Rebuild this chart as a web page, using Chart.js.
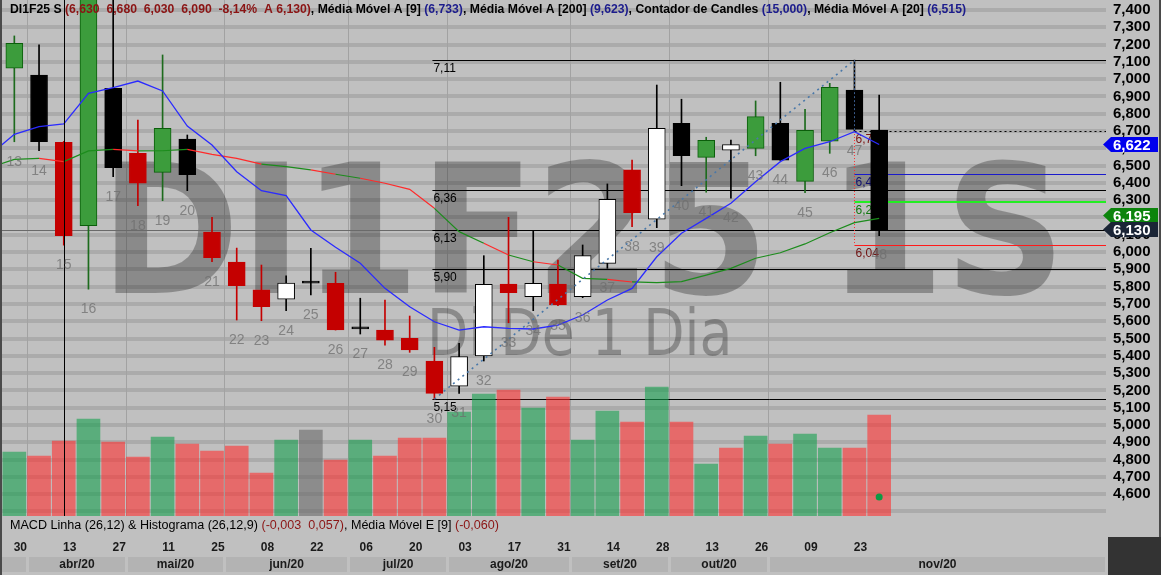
<!DOCTYPE html>
<html lang="pt-BR">
<head>
<meta charset="utf-8">
<title>DI1F25 S</title>
<script src="https://cdn.jsdelivr.net/npm/chart.js@4.4.1/dist/chart.umd.min.js"></script>
<style>
  html, body { margin: 0; padding: 0; background: #c0c0c0; overflow: hidden; }
  #grafico { display: block; }
</style>
</head>
<body>
<canvas id="grafico" width="1161" height="575"></canvas>
<script>
'use strict';

// contador de candles (semanal)
var contador = [13,14,15,16,17,18,19,20,21,22,23,24,25,26,27,28,29,30,
                31,32,33,34,35,36,37,38,39,40,41,42,43,44,45,46,47,48];
var datas = ['2020-03-30','2020-04-06','2020-04-13','2020-04-20','2020-04-27','2020-05-04',
             '2020-05-11','2020-05-18','2020-05-25','2020-06-01','2020-06-08','2020-06-15',
             '2020-06-22','2020-06-29','2020-07-06','2020-07-13','2020-07-20','2020-07-27',
             '2020-08-03','2020-08-10','2020-08-17','2020-08-24','2020-08-31','2020-09-08',
             '2020-09-14','2020-09-21','2020-09-28','2020-10-05','2020-10-13','2020-10-19',
             '2020-10-26','2020-11-03','2020-11-09','2020-11-16','2020-11-23','2020-11-30'];
var abertura   = [7.063,7.024,6.635,6.152,6.947,6.571,6.461,6.654,6.116,5.942,5.781,5.727,
                  5.832,5.819,5.566,5.549,5.501,5.370,5.225,5.399,5.815,5.742,5.815,5.742,
                  5.935,6.475,6.190,6.745,6.548,6.589,6.600,6.745,6.409,6.641,6.937,6.706];
var maxima     = [7.250,7.198,6.640,7.600,7.550,6.764,7.140,6.677,6.201,6.023,5.925,5.862,
                  6.022,5.883,5.733,5.723,5.630,5.449,5.472,5.979,6.201,6.122,5.954,6.041,
                  6.394,6.532,6.966,6.884,6.664,6.648,6.874,6.982,6.826,6.976,7.110,6.908];
var minima     = [6.638,6.586,6.040,5.785,6.436,6.268,6.297,6.355,5.944,5.607,5.603,5.661,
                  5.752,5.549,5.526,5.462,5.420,5.150,5.183,5.370,5.591,5.661,5.690,5.736,
                  5.906,6.147,6.141,6.384,6.346,6.311,6.557,6.530,6.343,6.571,6.700,6.095];
var fechamento = [7.207,6.638,6.095,7.550,6.488,6.398,6.716,6.447,5.967,5.805,5.684,5.820,
                  5.820,5.549,5.556,5.491,5.434,5.183,5.395,5.814,5.765,5.819,5.694,5.979,
                  6.305,6.228,6.716,6.557,6.646,6.621,6.783,6.532,6.704,6.953,6.710,6.130];

// médias móveis, a partir do candle 12
var mmContador = [12,13,14,15,16,17,18,19,20,21,22,23,24,25,26,27,28,29,30,
                  31,32,33,34,35,36,37,38,39,40,41,42,43,44,45,46,47,48];
var mm9  = [6.561,6.681,6.725,6.741,6.918,6.951,6.989,6.932,6.729,6.619,6.465,6.355,6.326,
            6.128,6.028,5.935,5.790,5.684,5.597,5.549,5.568,5.559,5.555,5.578,5.636,5.723,
            5.790,5.973,6.109,6.195,6.282,6.407,6.523,6.600,6.638,6.696,6.622];
var mm20 = [6.488,6.536,6.542,6.523,6.585,6.594,6.585,6.586,6.594,6.565,6.542,6.509,6.494,
            6.475,6.450,6.427,6.398,6.363,6.253,6.118,6.051,5.983,5.944,5.925,5.848,5.842,
            5.827,5.823,5.829,5.867,5.906,5.964,5.996,6.047,6.112,6.170,6.195];

// histograma (altura das barras no painel inferior)
var histograma = [64,60,75,97,74,59,79,72,65,70,43,76,86,56,76,60,78,78,
                  104,122,126,108,119,76,105,94,129,94,52,68,80,72,82,68,68,101];
var sinalMacd = [{x: 48, y: 19}];

// eixos
var ticksPreco = [4.5,4.6,4.7,4.8,4.9,5.0,5.1,5.2,5.3,5.4,5.5,5.6,5.7,5.8,5.9,
                  6.0,6.1,6.2,6.3,6.4,6.5,6.6,6.7,6.8,6.9,7.0,7.1,7.2,7.3,7.4];
var rotulosData = [13,15,17,19,21,23,25,27,29,31,33,35,37,39,41,43,45,47];
var meses = ['jan','fev','mar','abr','mai','jun','jul','ago','set','out','nov','dez'];

// desenhos
var niveis = [7.11, 6.36, 6.13, 5.90, 5.15];
var nivelInicio = 29.92;
var fiboNiveis = [6.70, 6.45, 6.29, 6.04];
var fiboCandle = 47;
var tendencia = [{x: 30, y: 5.15}, {x: 47, y: 7.11}];
var cursorCandle = 15;

// ---- estilos ----
var tipoCandle = 'gkrgkrgkrrrwkrkrrrwwrwrwwrwkgwgkggkk';
var corCorpo = {g: '#3c9c3c', k: '#000000', r: '#c40000', w: '#ffffff'};
var corBorda = {g: '#0b5e0b', k: '#000000', r: '#c40000', w: '#000000'};
var corPavio = {g: '#1d6b1d', k: '#000000', r: '#c40000', w: '#000000'};

var corpos = contador.map(function (n, i) { return {x: n, y: [abertura[i], fechamento[i]]}; });
var pavios = contador.map(function (n, i) { return {x: n, y: [minima[i], maxima[i]]}; });
var histDados = contador.map(function (n, i) { return {x: n, y: histograma[i]}; });
var mm9Dados = mmContador.map(function (n, i) { return {x: n, y: mm9[i]}; });
var mm20Dados = mmContador.map(function (n, i) { return {x: n, y: mm20[i]}; });

var histCores = contador.map(function (n, i) {
  var ant = i > 0 ? fechamento[i - 1] : abertura[i];
  var d = fechamento[i] - ant;
  if (Math.abs(d) < 0.005) return 'rgba(105,105,105,0.6)';
  return d > 0 ? 'rgba(22,160,79,0.6)' : 'rgba(255,49,49,0.6)';
});

function fmt(v, casas) { return v.toFixed(casas).replace('.', ','); }

function textoPartes(ctx, partes, x, y, largura, fonte) {
  ctx.save();
  ctx.font = fonte;
  var total = 0;
  partes.forEach(function (p) { total += ctx.measureText(p[0]).width; });
  ctx.translate(x, y);
  ctx.scale(largura / total, 1);
  ctx.textBaseline = 'middle';
  ctx.textAlign = 'left';
  var cx = 0;
  partes.forEach(function (p) {
    ctx.fillStyle = p[1];
    ctx.fillText(p[0], cx, 0);
    cx += ctx.measureText(p[0]).width;
  });
  ctx.restore();
}

function marcaDagua(ctx, txt, fonte, x0, x1, base) {
  ctx.save();
  ctx.font = fonte;
  ctx.textBaseline = 'alphabetic';
  ctx.textAlign = 'left';
  var m = ctx.measureText(txt);
  var tinta = m.actualBoundingBoxLeft + m.actualBoundingBoxRight;
  ctx.translate(x0, base);
  ctx.scale((x1 - x0) / tinta, 1);
  ctx.fillStyle = 'rgba(0,0,0,0.28)';
  ctx.fillText(txt, m.actualBoundingBoxLeft, 0);
  ctx.restore();
}

function linha(ctx, x0, y0, x1, y1, cor, larg, traco) {
  ctx.save();
  ctx.beginPath();
  ctx.strokeStyle = cor;
  ctx.lineWidth = larg;
  ctx.setLineDash(traco || []);
  ctx.moveTo(x0, y0);
  ctx.lineTo(x1, y1);
  ctx.stroke();
  ctx.restore();
}

function etiqueta(ctx, yc, txt, fundo) {
  ctx.save();
  ctx.beginPath();
  ctx.moveTo(1103, yc);
  ctx.lineTo(1111, yc - 7.5);
  ctx.lineTo(1158, yc - 7.5);
  ctx.lineTo(1158, yc + 7.5);
  ctx.lineTo(1111, yc + 7.5);
  ctx.closePath();
  ctx.fillStyle = fundo;
  ctx.fill();
  ctx.font = 'bold 15px "Liberation Sans"';
  ctx.fillStyle = '#ffffff';
  ctx.textBaseline = 'middle';
  ctx.fillText(txt, 1113, yc + 1);
  ctx.restore();
}

var sobreposicao = {
  id: 'sobreposicao',
  beforeDraw: function (chart) {
    var ctx = chart.ctx;
    ctx.save();
    ctx.fillStyle = '#c0c0c0';
    ctx.fillRect(0, 0, chart.width, chart.height);
    ctx.restore();
  },
  beforeDatasetsDraw: function (chart) {
    var ctx = chart.ctx, a = chart.chartArea, sx = chart.scales.x, sy = chart.scales.y;
    ctx.save();
    ctx.beginPath();
    ctx.rect(a.left, a.top, a.right - a.left, a.bottom - a.top);
    ctx.clip();

    // divisões de mês
    for (var i = 1; i < datas.length; i++) {
      if (datas[i].slice(5, 7) !== datas[i - 1].slice(5, 7)) {
        var xb = Math.round(sx.getPixelForValue(contador[i] - 0.5)) + 0.5;
        linha(ctx, xb, a.top, xb, a.bottom, '#a2a2a2', 1);
      }
    }

    marcaDagua(ctx, 'DI1F25 1S', 'bold 180px "DejaVu Sans"', 115, 1054, 293);
    marcaDagua(ctx, 'Di De 1 Dia', '64px "DejaVu Sans"', 432, 728, 355);

    // último preço
    var yu = Math.round(sy.getPixelForValue(fechamento[fechamento.length - 1])) + 0.5;
    linha(ctx, a.left, yu, a.right, yu, '#6a6a6a', 1);

    // níveis desenhados
    var xn = sx.getPixelForValue(nivelInicio);
    ctx.font = '12px "Liberation Sans"';
    ctx.textBaseline = 'middle';
    niveis.forEach(function (v) {
      var yv = Math.round(sy.getPixelForValue(v)) + 0.5;
      linha(ctx, xn, yv, a.right, yv, '#000000', 1);
      ctx.fillStyle = '#000000';
      ctx.fillText(fmt(v, 2), xn + 1, yv + 8);
    });

    // retração a partir do candle 47
    var xf = Math.round(sx.getPixelForValue(fiboCandle)) + 0.5;
    var coresFibo = ['#000000', '#1a1acc', '#22ee22', '#ff1a1a'];
    var coresTxt = ['#7a1010', '#101070', '#117711', '#701010'];
    fiboNiveis.forEach(function (v, k) {
      var yv = Math.round(sy.getPixelForValue(v)) + 0.5;
      if (k === 0) linha(ctx, xf, yv, a.right, yv, '#000000', 1, [2, 3]);
      else if (k === 2) linha(ctx, xf, yv - 0.5, a.right, yv - 0.5, coresFibo[k], 2);
      else linha(ctx, xf, yv, a.right, yv, coresFibo[k], 1);
      ctx.fillStyle = coresTxt[k];
      ctx.fillText(fmt(v, 2), xf + 1, yv + 8);
    });
    linha(ctx, xf, sy.getPixelForValue(fiboNiveis[0]), xf, sy.getPixelForValue(fiboNiveis[3]),
          '#ff3030', 1, [1, 2]);
    ctx.restore();
  },
  afterDatasetsDraw: function (chart) {
    var ctx = chart.ctx, a = chart.chartArea, sx = chart.scales.x, sy = chart.scales.y;
    ctx.save();
    ctx.beginPath();
    ctx.rect(a.left, a.top, a.right - a.left, a.bottom - a.top);
    ctx.clip();

    // linha de tendência pontilhada
    linha(ctx, sx.getPixelForValue(tendencia[0].x), sy.getPixelForValue(tendencia[0].y),
          sx.getPixelForValue(tendencia[1].x), sy.getPixelForValue(tendencia[1].y),
          '#4a78a8', 1.6, [2, 4]);
    var xf = Math.round(sx.getPixelForValue(fiboCandle)) + 0.5;
    linha(ctx, xf, sy.getPixelForValue(tendencia[1].y), xf, sy.getPixelForValue(fiboNiveis[0]),
          '#3a5a8a', 1, [2, 2]);

    // cursor
    var xc = Math.round(sx.getPixelForValue(cursorCandle)) + 0.5;
    linha(ctx, xc, a.top, xc, a.bottom, '#000000', 1);

    // números do contador
    ctx.font = '14px "Liberation Sans"';
    ctx.fillStyle = 'rgba(110,110,110,0.75)';
    ctx.textAlign = 'center';
    ctx.textBaseline = 'middle';
    contador.forEach(function (n, i) {
      ctx.fillText(String(n), sx.getPixelForValue(n), sy.getPixelForValue(minima[i]) + 20);
    });
    ctx.restore();
  },
  afterDraw: function (chart) {
    var ctx = chart.ctx, a = chart.chartArea, sx = chart.scales.x, sy = chart.scales.y;
    var preto = '#000000', verm = '#8b1414', azul = '#1c1c8c';

    textoPartes(ctx, [
      ['DI1F25 S ', preto],
      ['(6,630  6,680  6,030  6,090  -8,14%  A 6,130)', verm],
      [', Média Móvel A [9] ', preto], ['(6,733)', azul],
      [', Média Móvel A [200] ', preto], ['(9,623)', azul],
      [', Contador de Candles ', preto], ['(15,000)', azul],
      [', Média Móvel A [20] ', preto], ['(6,515)', azul]
    ], 10, 10, 956, 'bold 12px "Liberation Sans"');

    textoPartes(ctx, [
      ['MACD Linha (26,12) & Histograma (26,12,9) ', preto],
      ['(-0,003  0,057)', verm],
      [', Média Móvel E [9] ', preto], ['(-0,060)', verm]
    ], 10, 526, 489, '12px "Liberation Sans"');

    // caixas dos meses
    var bordas = [a.left];
    var mesSeg = [datas[0].slice(0, 7)];
    for (var i = 1; i < datas.length; i++) {
      if (datas[i].slice(5, 7) !== datas[i - 1].slice(5, 7)) {
        bordas.push(sx.getPixelForValue(contador[i] - 0.5));
        mesSeg.push(datas[i].slice(0, 7));
      }
    }
    bordas.push(a.right);
    ctx.save();
    ctx.font = 'bold 12px "Liberation Sans"';
    ctx.textAlign = 'center';
    ctx.textBaseline = 'middle';
    for (var k = 0; k < mesSeg.length; k++) {
      var x0 = Math.round(bordas[k]) + 2, x1 = Math.round(bordas[k + 1]) - 1;
      ctx.fillStyle = '#b3b3b3';
      ctx.fillRect(x0, 557, x1 - x0, 15);
      if (x1 - x0 > 50) {
        var m = parseInt(mesSeg[k].slice(5, 7), 10) - 1;
        ctx.fillStyle = '#1a1a1a';
        ctx.fillText(meses[m] + '/' + mesSeg[k].slice(2, 4), (x0 + x1) / 2, 565);
      }
    }
    ctx.restore();

    // etiquetas do eixo
    var yClose = sy.getPixelForValue(fechamento[fechamento.length - 1]);
    var y20 = Math.min(sy.getPixelForValue(mm20[mm20.length - 1]), yClose - 14);
    etiqueta(ctx, sy.getPixelForValue(mm9[mm9.length - 1]), fmt(mm9[mm9.length - 1], 3), '#0000ee');
    etiqueta(ctx, y20, fmt(mm20[mm20.length - 1], 3), '#0c840c');
    etiqueta(ctx, yClose, fmt(fechamento[fechamento.length - 1], 3), '#1b2536');

    ctx.save();
    ctx.fillStyle = '#333333';
    ctx.fillRect(1108, 537, 53, 38);
    ctx.fillStyle = '#4a4a4a';
    ctx.fillRect(0, 0, 2, chart.height);
    ctx.fillRect(1159, 0, 2, 537);
    ctx.restore();
  }
};

Chart.defaults.font.family = '"Liberation Sans", Arial, sans-serif';

var grafico = new Chart(document.getElementById('grafico'), {
  type: 'bar',
  data: {
    datasets: [
      {
        type: 'line', label: 'Média Móvel A [9]', data: mm9Dados,
        borderColor: '#2a2aff', borderWidth: 1.3, pointRadius: 0, tension: 0
      },
      {
        type: 'line', label: 'Média Móvel A [20]', data: mm20Dados,
        borderColor: '#1c8c1c', borderWidth: 1.2, pointRadius: 0, tension: 0,
        segment: {
          borderColor: function (c) {
            return tipoCandle.charAt(c.p1DataIndex - 1) === 'r' ? '#ff2a2a' : '#1c8c1c';
          }
        }
      },
      {
        type: 'scatter', label: 'sinal', data: sinalMacd, yAxisID: 'yh',
        pointRadius: 3.5, backgroundColor: '#0f9a45', borderWidth: 0
      },
      {
        type: 'bar', label: 'corpo', data: corpos,
        backgroundColor: contador.map(function (n, i) { return corCorpo[tipoCandle[i]]; }),
        borderColor: contador.map(function (n, i) { return corBorda[tipoCandle[i]]; }),
        borderWidth: 1, borderSkipped: false, barThickness: 17, minBarLength: 2, grouped: false
      },
      {
        type: 'bar', label: 'pavio', data: pavios,
        backgroundColor: contador.map(function (n, i) { return corPavio[tipoCandle[i]]; }),
        borderWidth: 0, barThickness: 1, grouped: false
      },
      {
        type: 'bar', label: 'MACD', data: histDados, yAxisID: 'yh',
        backgroundColor: histCores, borderWidth: 0, barThickness: 23, grouped: false
      }
    ]
  },
  options: {
    responsive: false,
    animation: false,
    devicePixelRatio: 1,
    layout: { padding: 0, autoPadding: false },
    plugins: { legend: { display: false }, tooltip: { enabled: false } },
    scales: {
      x: {
        type: 'linear', min: 12.42, max: 57.18, offset: false,
        grid: { display: false, drawTicks: false },
        border: { display: false },
        afterBuildTicks: function (s) {
          s.ticks = rotulosData.map(function (v) { return {value: v}; });
        },
        ticks: {
          autoSkip: false, maxRotation: 0, padding: 24, labelOffset: 6,
          color: '#1a1a1a', font: { size: 12, weight: 'bold' },
          callback: function (v) {
            var i = contador.indexOf(v);
            return i < 0 ? '' : datas[i].slice(8, 10);
          }
        },
        afterFit: function (s) {
          s.height = 59; s.paddingLeft = 0; s.paddingRight = 0;
        }
      },
      y: {
        position: 'right', min: 4.4735, max: 7.4578,
        grid: { color: '#ababab', lineWidth: 4, drawTicks: false },
        border: { display: false },
        afterBuildTicks: function (s) {
          s.ticks = ticksPreco.map(function (v) { return {value: v}; });
        },
        ticks: {
          autoSkip: false, padding: 7, color: '#000000',
          font: { size: 15, weight: 'bold' },
          callback: function (v) { return v < 4.55 ? '' : fmt(v, 3); }
        },
        afterFit: function (s) {
          s.width = 55; s.paddingTop = 0; s.paddingBottom = 0;
        }
      },
      yh: { display: false, min: 0, max: 516 }
    }
  },
  plugins: [sobreposicao]
});
</script>
</body>
</html>
